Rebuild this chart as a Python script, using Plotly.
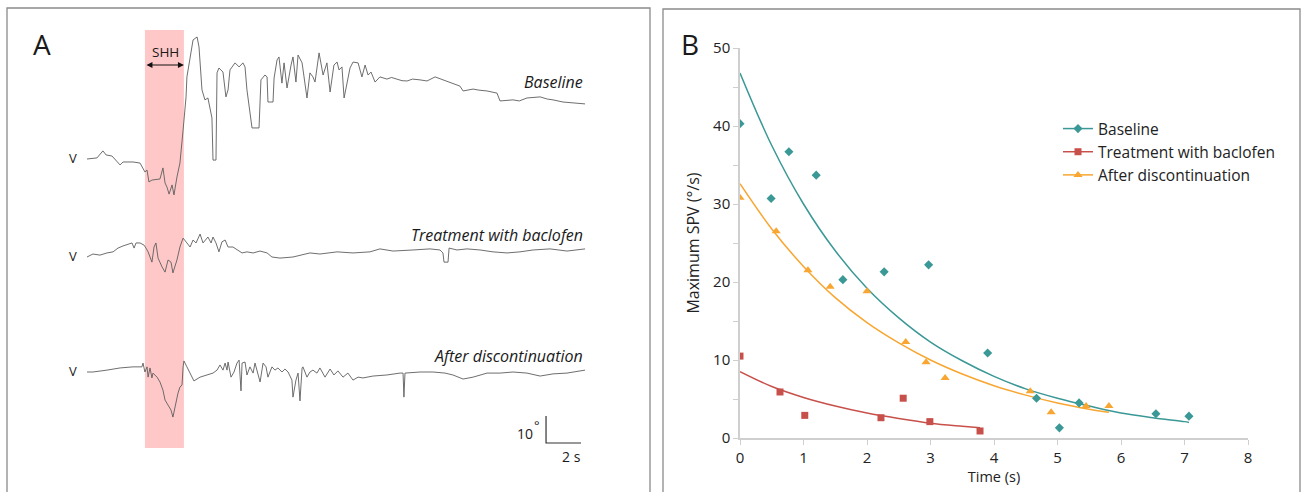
import plotly.graph_objects as go

# ---------------- Panel A data (time in s, eye position in deg, relative to trace start) ----------------
base_t = [0, 0.57, 0.91, 1.09, 1.43, 1.71, 1.89, 2.06, 2.63, 3.03, 3.31, 3.43, 3.54, 3.71, 4.17, 4.34, 4.46,
          4.57, 4.69, 4.86, 4.97, 5.14, 5.31, 5.49, 5.66, 5.71, 5.89, 6.06, 6.29, 6.4, 6.57, 6.74, 6.91, 7.14,
          7.2, 7.37, 7.43, 7.54, 7.77, 7.94, 8.06, 8.17, 8.46, 8.69, 8.91, 9.03, 9.14, 9.31, 9.43, 9.83, 9.94,
          10.17, 10.29, 10.34, 10.63, 10.69, 10.86, 10.97, 11.14, 11.26, 11.43, 11.66, 11.77, 11.94, 12.06,
          12.29, 12.57, 12.74, 12.91, 13.03, 13.26, 13.49, 13.71, 13.89, 14.11, 14.29, 14.4, 14.57, 14.69,
          15.03, 15.2, 15.49, 15.71, 15.89, 16.06, 16.23, 16.46, 16.74, 17.14, 17.4, 17.71, 18.0, 18.29,
          18.6, 19.03, 19.43, 19.89, 20.34, 20.86, 21.31, 21.49, 22.06, 22.4, 22.86, 23.43, 23.6, 24.34,
          24.7, 25.14, 25.89, 26.3, 26.63, 27.2, 27.77, 28.46]
base_v = [0, 0.4, 3.0, 1.5, 1.1, -1.1, -2.2, -1.1, -1.1, -1.5, -4.8, -4.1, -8.5, -7.8, -7.4, -3.3, -8.9,
          -10.4, -13.0, -9.6, -13.3, -6.7, -1.5, 10.7, 23.0, 30.4, 36.7, 44.1, 45.2, 41.5, 25.6, 21.9, 22.6,
          15.2, -0.4, -0.4, 31.9, 33.7, 32.2, 23.0, 25.6, 33.0, 35.6, 34.1, 35.6, 34.1, 25.6, 17.0, 11.5,
          11.5, 29.3, 31.1, 30.4, 21.1, 21.1, 30.0, 36.7, 37.8, 28.1, 35.6, 26.3, 34.8, 37.8, 28.5, 38.5,
          35.6, 22.6, 31.9, 30.4, 28.5, 39.3, 31.1, 35.6, 24.8, 34.8, 35.9, 33.0, 34.1, 22.6,
          33.7, 35.9, 35.6, 30.4, 34.8, 31.1, 32.2, 28.5, 30.4, 29.6, 30.2, 29.6, 29.0, 28.9,
          29.6, 29.3, 28.9, 30.4, 29.3, 28.1, 27.0, 25.2, 25.9, 25.5, 25.2, 24.4, 21.5, 21.9,
          21.5, 22.6, 23.0, 22.2, 21.9, 21.1, 20.7, 20.4]

treat_t = [0, 0.34, 0.74, 1.14, 1.49, 1.77, 2.06, 2.57, 2.69, 2.8, 3.03, 3.26, 3.37, 3.49, 3.71, 3.83, 3.94,
           4.06, 4.29, 4.46, 4.63, 4.8, 4.91, 5.14, 5.31, 5.49, 5.71, 5.89, 6.06, 6.23, 6.46, 6.63, 6.91,
           7.09, 7.2, 7.37, 7.54, 7.71, 7.89, 8.06, 8.34, 8.63, 8.86, 9.14, 9.49, 9.89, 10.29, 10.57, 11.03,
           11.77, 12.74, 13.31, 14.29, 15.2, 16.17, 16.74, 17.49, 18.63, 19.6, 20.17, 20.34, 20.4, 20.63,
           20.69, 21.14, 21.71, 22.46, 23.2, 24.0, 24.74, 25.49, 26.46, 27.43, 28.46]
treat_v = [0, 1.1, 0.7, 1.5, 1.9, 3.3, 4.1, 5.2, 3.3, 5.2, 5.2, 4.4, 3.3, 1.9, -1.9, 3.7, 5.2,
           -0.4, -3.7, -5.6, -1.1, -1.9, -5.9, -1.1, 3.7, 7.0, 5.2, 3.7, 6.3, 5.2, 8.5, 5.2, 7.4,
           5.2, 7.4, 5.2, 1.9, 5.6, 6.3, 3.7, 3.7, 2.6, 1.5, 1.9, 1.5, 2.2, 1.5, 0, -0.4,
           0, 1.5, 1.1, 1.9, 1.5, 1.9, 3.0, 2.2, 2.6, 3.0, 2.6, 1.5, -1.9, -1.9,
           3.3, 2.6, 3.0, 2.6, 1.9, 1.5, 1.9, 2.6, 3.0, 2.2, 3.0]

after_t = [0, 0.34, 1.14, 1.89, 2.63, 3.14, 3.2, 3.31, 3.43, 3.49, 3.6, 3.71, 3.77, 4.0, 4.17, 4.34, 4.46,
           4.63, 4.8, 4.91, 5.09, 5.2, 5.31, 5.43, 5.49, 5.54, 5.71, 5.89, 6.11, 6.46, 6.86, 7.2, 7.43, 7.6,
           7.77, 7.89, 8.0, 8.06, 8.23, 8.4, 8.57, 8.69, 8.8, 8.86, 9.03, 9.14, 9.31, 9.49, 9.6, 9.71, 9.89,
           10.06, 10.23, 10.34, 10.57, 10.74, 10.91, 11.14, 11.31, 11.49, 11.71, 11.77, 11.94, 12.06, 12.17,
           12.29, 12.34, 12.57, 12.74, 12.91, 13.14, 13.31, 13.49, 13.6, 13.89, 14.11, 14.34, 14.63, 14.91,
           15.2, 15.49, 15.77, 16.34, 17.14, 17.89, 18.06, 18.11, 18.17, 19.03, 19.77, 20.46, 20.91, 21.49,
           22.06, 22.86, 23.6, 24.34, 25.14, 25.89, 26.63, 27.43, 28.46]
after_v = [0, 0, 0.7, 1.5, 1.9, 1.9, 3.3, 0, 1.9, -1.9, 1.5, -2.2, -0.4, -1.9, -3.7, -6.7, -10.4,
           -12.2, -14.1, -16.7, -10.4, -7.8, -5.6, -4.8, 1.9, 4.1, 1.9, -0.4, -3.3, -1.9, -1.1, -0.4, 0.7, 2.6,
           0.7, 3.3, 0.7, 3.7, -1.9, 0, 3.3, 4.4, -7.0, 3.3, 3.7, -1.1, 1.9, -0.4, 3.3, 0.7, -3.7,
           3.3, 1.9, -1.9, 1.9, 0.7, 1.5, 0, 1.1, 0, -3.0, -9.3, -3.0, -0.4, -10.7,
           1.5, 1.9, -1.9, 0, 0.7, -0.4, 1.5, -0.4, -1.9, 1.1, -1.1, 0.4, -1.9, -0.4,
           -3.0, -1.9, -2.2, -1.5, -1.1, -0.4, -0.4, -9.3, -0.4, 0, 0, -0.4, -1.1, -2.6,
           -1.9, -0.4, -0.4, 0, -0.4, -1.5, -0.7, -0.4, 0.7]

trace_names_a = ["Baseline", "Treatment with baclofen", "After discontinuation"]
shh_window = [3.31, 5.54]          # s
scale_deg = 10                     # deg
scale_sec = 2                      # s

# ---------------- Panel B data ----------------
series_names = ["Baseline", "Treatment with baclofen", "After discontinuation"]
base_x = [0, 0.49, 0.77, 1.2, 1.62, 2.27, 2.97, 3.9, 4.67, 5.03, 5.34, 6.55, 7.07]
base_y = [40.3, 30.7, 36.7, 33.7, 20.3, 21.3, 22.2, 10.9, 5.1, 1.3, 4.5, 3.1, 2.8]
treat_x = [0, 0.63, 1.02, 2.22, 2.57, 2.99, 3.78]
treat_y = [10.5, 5.9, 2.9, 2.6, 5.1, 2.1, 0.9]
after_x = [0, 0.57, 1.07, 1.42, 2.0, 2.61, 2.93, 3.23, 4.57, 4.9, 5.45, 5.81]
after_y = [30.8, 26.5, 21.5, 19.4, 18.8, 12.3, 9.7, 7.7, 6.0, 3.3, 4.1, 4.1]

# fitted curves
base_fit_x = [0, 0.5, 1, 1.5, 2, 2.5, 3, 3.5, 4, 4.5, 5, 5.5, 6, 6.5, 7, 7.07]
base_fit_y = [46.8, 37.5, 30.0, 24.0, 19.2, 15.4, 12.3, 9.9, 7.9, 6.3, 5.1, 4.1, 3.2, 2.6, 2.1, 2.0]
treat_fit_x = [0, 0.5, 1, 1.5, 2, 2.5, 3, 3.5, 3.78]
treat_fit_y = [8.5, 6.6, 5.2, 4.1, 3.2, 2.5, 1.9, 1.5, 1.3]
after_fit_x = [0, 0.5, 1, 1.5, 2, 2.5, 3, 3.5, 4, 4.5, 5, 5.5, 5.81]
after_fit_y = [32.6, 26.8, 22.0, 18.0, 14.8, 12.2, 10.0, 8.2, 6.7, 5.5, 4.5, 3.7, 3.3]

x_ticks = [0, 1, 2, 3, 4, 5, 6, 7, 8]
y_ticks = [0, 10, 20, 30, 40, 50]

# ---------------- styling ----------------
W, H = 1306, 492
FONT = "Open Sans"
TEAL, RED, ORANGE = "#3A9896", "#C8504B", "#F8A631"
TRACE_COL = "#5e5e5e"
PINK = "rgba(255,190,190,0.85)"

# panel A layout constants (pixel geometry of the panel)
PX_PER_S = 17.5
PX_PER_DEG = 2.7
A_T0_PX = 87
a_xrange = [(0 - A_T0_PX) / PX_PER_S, (650 - A_T0_PX) / PX_PER_S]
a_yrange = [0, H / PX_PER_DEG]
offsets = [(H - 159) / PX_PER_DEG, (H - 257) / PX_PER_DEG, (H - 372) / PX_PER_DEG]

fig = go.Figure()

# Panel A traces
for tt, vv, off in [(base_t, base_v, offsets[0]), (treat_t, treat_v, offsets[1]), (after_t, after_v, offsets[2])]:
    fig.add_trace(go.Scatter(x=tt, y=[v + off for v in vv], mode="lines",
                             line=dict(color=TRACE_COL, width=0.9), xaxis="x2", yaxis="y2",
                             showlegend=False, hoverinfo="skip"))

# scale bar
sb_t = 26.23
sb_y = (H - 443) / PX_PER_DEG
fig.add_trace(go.Scatter(x=[sb_t, sb_t, sb_t + scale_sec], y=[sb_y + scale_deg, sb_y, sb_y],
                         mode="lines", line=dict(color="#333", width=1.2),
                         xaxis="x2", yaxis="y2", showlegend=False, hoverinfo="skip"))

# Panel B: fit curves
for fx, fy, col in [(base_fit_x, base_fit_y, TEAL), (treat_fit_x, treat_fit_y, RED), (after_fit_x, after_fit_y, ORANGE)]:
    fig.add_trace(go.Scatter(x=fx, y=fy, mode="lines", line=dict(color=col, width=1.5, shape="spline"),
                             showlegend=False, hoverinfo="skip"))
# Panel B: data points
for xs, ys, col, sym, sz in [(base_x, base_y, TEAL, "diamond", 7),
                             (treat_x, treat_y, RED, "square", 7),
                             (after_x, after_y, ORANGE, "triangle-up", 8)]:
    fig.add_trace(go.Scatter(x=xs, y=ys, mode="markers", marker=dict(color=col, symbol=sym, size=sz),
                             showlegend=False))
# legend entries
for name, col, sym, sz in [(series_names[0], TEAL, "diamond", 7), (series_names[1], RED, "square", 7),
                           (series_names[2], ORANGE, "triangle-up", 8)]:
    fig.add_trace(go.Scatter(x=[None], y=[None], mode="lines+markers", name=name,
                             line=dict(color=col, width=1.5), marker=dict(color=col, symbol=sym, size=sz)))

shapes = [
    # panel frames
    dict(type="rect", xref="paper", yref="paper", x0=7 / W, x1=650 / W, y0=-0.05, y1=1 - 8 / H,
         line=dict(color="#8a8a8a", width=1.3), fillcolor="rgba(0,0,0,0)", layer="above"),
    dict(type="rect", xref="paper", yref="paper", x0=663 / W, x1=1300 / W, y0=-0.05, y1=1 - 9 / H,
         line=dict(color="#8a8a8a", width=1.3), fillcolor="rgba(0,0,0,0)", layer="above"),
    # SHH band
    dict(type="rect", xref="x2", yref="paper", x0=shh_window[0], x1=shh_window[1],
         y0=1 - 448 / H, y1=1 - 30 / H, line=dict(width=0), fillcolor=PINK, layer="below"),
]

ann = []
def txt(x, y, s, size=14, xref="paper", yref="paper", xanchor="center", yanchor="middle", italic=False, color="#1a1a1a"):
    if italic:
        s = "<i>" + s + "</i>"
    ann.append(dict(x=x, y=y, xref=xref, yref=yref, text=s, showarrow=False, xanchor=xanchor, yanchor=yanchor,
                    font=dict(family=FONT, size=size, color=color)))

txt(42 / W, 1 - 44 / H, "A", size=28)
txt(690 / W, 1 - 44 / H, "B", size=28)
txt(165 / W, 1 - 52 / H, "SHH", size=13.5)
for yy in [158, 256, 371]:
    txt(73 / W, 1 - yy / H, "V", size=13)
txt(28.46, 1 - 82 / H, trace_names_a[0], size=16, xref="x2", xanchor="right", italic=True)
txt(28.46, 1 - 235 / H, trace_names_a[1], size=16, xref="x2", xanchor="right", italic=True)
txt(28.46, 1 - 356 / H, trace_names_a[2], size=16, xref="x2", xanchor="right", italic=True)
txt(525 / W, 1 - 433 / H, "10", size=14)
txt(537 / W, 1 - 425 / H, "°", size=13)
txt(571 / W, 1 - 456 / H, "2 s", size=14)

# SHH double arrow
ann.append(dict(x=shh_window[1], y=(H - 65) / PX_PER_DEG, xref="x2", yref="y2",
                ax=shh_window[0], ay=(H - 65) / PX_PER_DEG, axref="x2", ayref="y2",
                text="", showarrow=True, arrowhead=2, arrowside="end+start", arrowsize=1,
                arrowwidth=1.2, arrowcolor="#111"))

fig.update_layout(
    width=W, height=H, margin=dict(l=0, r=0, t=0, b=0, autoexpand=False),
    paper_bgcolor="white", plot_bgcolor="rgba(0,0,0,0)",
    font=dict(family=FONT, size=14, color="#222"),
    shapes=shapes, annotations=ann,
    xaxis=dict(domain=[740 / W, 1248 / W], range=[0, 8], tickvals=x_ticks, showgrid=False, zeroline=False,
               showline=True, linecolor="#cfcfcf", linewidth=1.5, ticks="outside", ticklen=5,
               tickcolor="#cfcfcf", tickfont=dict(size=15, color="#222"), automargin=False,
               title=dict(text="Time (s)", font=dict(size=14.5), standoff=6), anchor="y"),
    yaxis=dict(domain=[1 - 438 / H, 1 - 48 / H], range=[0, 50], tickvals=y_ticks, showgrid=False,
               zeroline=False, showline=True, linecolor="#cfcfcf", linewidth=1.5, ticks="outside", ticklen=5,
               tickcolor="#cfcfcf", tickfont=dict(size=15, color="#222"), automargin=False,
               minor=dict(tickvals=[5, 15, 25, 35, 45], ticks="outside", ticklen=5, tickcolor="#cfcfcf"),
               title=dict(text="Maximum SPV (°/s)", font=dict(size=16), standoff=9), anchor="x"),
    xaxis2=dict(domain=[0, 650 / W], range=a_xrange, visible=False, anchor="y2", automargin=False),
    yaxis2=dict(domain=[0, 1], range=a_yrange, visible=False, anchor="x2", automargin=False),
    legend=dict(x=1058 / W, y=1 - 112 / H, xanchor="left", yanchor="top", bgcolor="rgba(0,0,0,0)",
                font=dict(size=15.5, color="#222"), tracegroupgap=0, itemwidth=30),
)

fig.write_html("out.html", config={"displayModeBar": False},
               post_script="document.body.style.margin='0px';document.body.style.overflow='hidden';")
